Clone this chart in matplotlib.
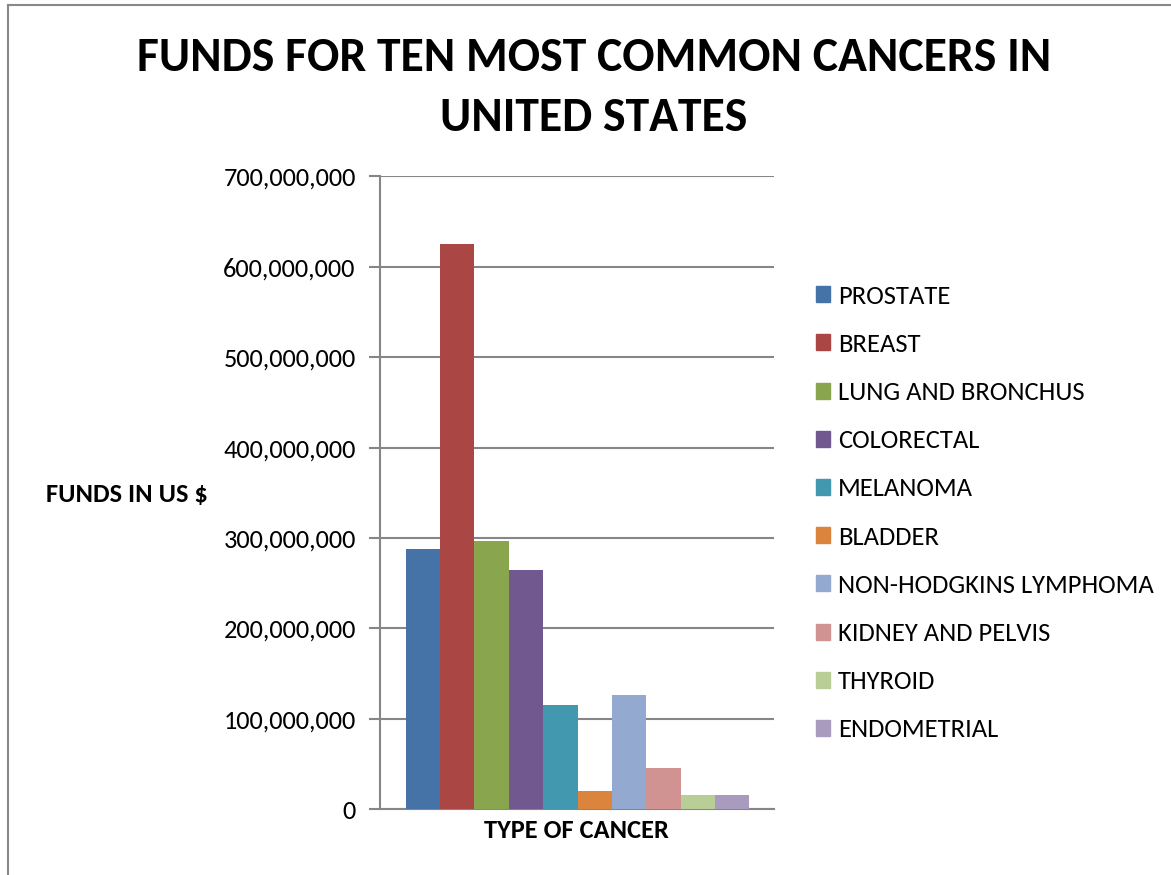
import matplotlib
matplotlib.use("Agg")
import matplotlib.pyplot as plt
from matplotlib.patches import Rectangle
from matplotlib.lines import Line2D
from matplotlib.ticker import FuncFormatter

cancers = ["PROSTATE", "BREAST", "LUNG AND BRONCHUS", "COLORECTAL", "MELANOMA",
           "BLADDER", "NON-HODGKINS LYMPHOMA", "KIDNEY AND PELVIS", "THYROID",
           "ENDOMETRIAL"]
funds = [288000000, 625000000, 297000000, 265000000, 115000000,
         20000000, 126000000, 45700000, 15800000, 15800000]
colors = ["#4572A7", "#AA4643", "#89A54E", "#71588F", "#4198AF",
          "#DB843D", "#93A9CF", "#D19392", "#B9CD96", "#A99BBD"]
yticks = [0, 100000000, 200000000, 300000000, 400000000, 500000000,
          600000000, 700000000]

plt.rcParams["font.family"] = ["Carlito", "Lato", "DejaVu Sans"]
W, H = 1171, 875
fig = plt.figure(figsize=(W / 100, H / 100), dpi=100)
ax = fig.add_axes([380 / W, 1 - 809.3 / H, (774 - 380) / W, (809.3 - 176.3) / H])

grid = "#868686"
for i, v in enumerate(funds):
    ax.bar(i, v, width=1.0, color=colors[i], label=cancers[i], zorder=3)

ax.set_xlim(-1.25, 10.22)
ax.set_ylim(0, 700000000)
ax.set_yticks(yticks)
ax.yaxis.set_major_formatter(FuncFormatter(lambda v, p: "{:,}".format(int(v))))
ax.set_xticks([])
ax.grid(axis="y", color=grid, linewidth=1.5, zorder=0)
for s in ["top", "right"]:
    ax.spines[s].set_visible(False)
for s in ["left", "bottom"]:
    ax.spines[s].set_color(grid)
    ax.spines[s].set_linewidth(1.5)
ax.tick_params(axis="y", length=8, width=1.5, color=grid, pad=9.5,
               labelsize=19, labelcolor="black")

fig.text(594 / W, 1 - 88 / H, "FUNDS FOR TEN MOST COMMON CANCERS IN\nUNITED STATES",
         ha="center", va="center", fontsize=34.4, fontweight="bold", linespacing=1.51)
fig.text(127 / W, 1 - 494 / H, "FUNDS IN US $", ha="center", va="center",
         fontsize=19, fontweight="bold")
fig.text(576.5 / W, 1 - 830.5 / H, "TYPE OF CANCER", ha="center", va="center",
         fontsize=19, fontweight="bold")

handles = [Rectangle((0, 0), 1, 1, color=c) for c in colors]
fig.legend(handles, cancers, loc="upper left",
           bbox_to_anchor=(805 / W, 1 - 274 / H), frameon=False,
           fontsize=19.2, handlelength=0.54, handleheight=0.54,
           handletextpad=0.29, labelspacing=0.945, borderaxespad=0)

# outer chart border
fig.add_artist(Line2D([8 / W, 1], [1 - 5 / H, 1 - 5 / H], color="#888888", lw=1.5))
fig.add_artist(Line2D([8 / W, 8 / W], [0, 1 - 5 / H], color="#888888", lw=1.5))

fig.savefig("out.png", dpi=100)
